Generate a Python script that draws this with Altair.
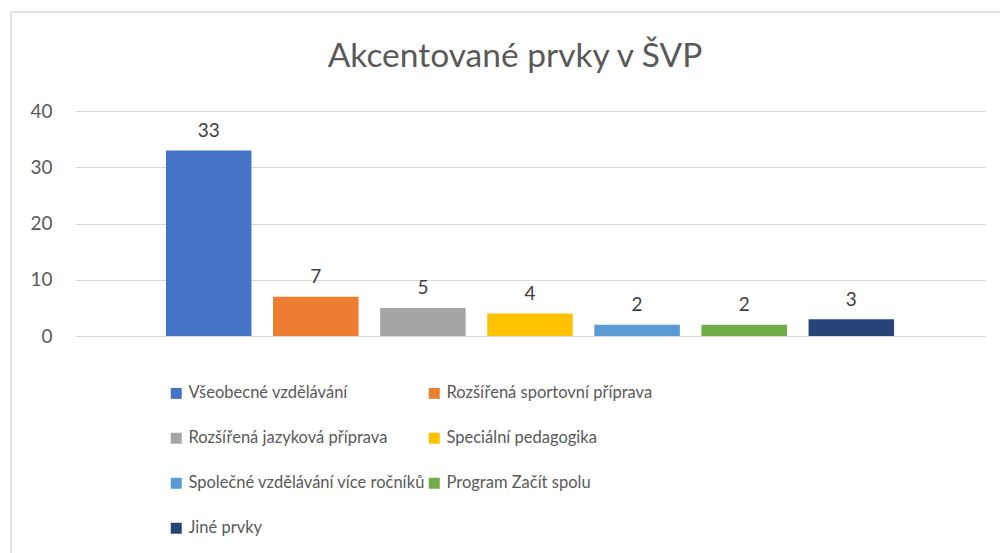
import altair as alt
import pandas as pd

categories = [
    "Všeobecné vzdělávání",
    "Rozšířená sportovní příprava",
    "Rozšířená jazyková příprava",
    "Speciální pedagogika",
    "Společné vzdělávání více ročníků",
    "Program Začít spolu",
    "Jiné prvky",
]
values = [33, 7, 5, 4, 2, 2, 3]
colors = ["#4472C4", "#ED7D31", "#A5A5A5", "#FFC000", "#5B9BD5", "#70AD47", "#264478"]
y_ticks = [0, 10, 20, 30, 40]

df = pd.DataFrame({"cat": categories, "val": values})

FONT = "Lato"
GRAY = "#595959"

base = alt.Chart(df).encode(
    x=alt.X("cat:N", sort=categories,
            scale=alt.Scale(paddingInner=0.2017, paddingOuter=0.849),
            axis=None)
)

bars = base.mark_bar().encode(
    y=alt.Y("val:Q", scale=alt.Scale(domain=[0, 40]),
            axis=alt.Axis(values=y_ticks, grid=True, domain=False, ticks=False,
                          labelPadding=23, labelFontSize=19, labelFont=FONT,
                          labelColor=GRAY, gridColor="#d9d9d9", gridWidth=1.2,
                          title=None)),
    color=alt.Color("cat:N", sort=categories,
                    scale=alt.Scale(domain=categories, range=colors),
                    legend=alt.Legend(title=None, orient="none", legendX=93, legendY=274,
                                      direction="horizontal",
                                      columns=2, symbolType="square", symbolSize=121,
                                      symbolStrokeWidth=0, labelFont=FONT, labelFontSize=16.5,
                                      labelColor=GRAY, labelOffset=4, rowPadding=28,
                                      columnPadding=0, padding=0, labelLimit=400)),
)

labels = base.mark_text(baseline="alphabetic", dy=-13.5, font=FONT, fontSize=19,
                        color="#404040").encode(
    y=alt.Y("val:Q"),
    text=alt.Text("val:Q"),
)

frame_df = pd.DataFrame({"k": [0]})
top_border = alt.Chart(frame_df).mark_rule(color="#d9d9d9", strokeWidth=1.5).encode(
    x=alt.value(-64), x2=alt.value(940), y=alt.value(-99)
)
left_border = alt.Chart(frame_df).mark_rule(color="#d9d9d9", strokeWidth=1.5).encode(
    x=alt.value(-64), y=alt.value(-99), y2=alt.value(450)
)

chart = alt.layer(top_border, left_border, bars, labels).properties(
    width=910,
    height=225,
    title=alt.TitleParams("Akcentované prvky v ŠVP", font=FONT, fontSize=33.5,
                          fontWeight="normal", color=GRAY, anchor="middle",
                          frame="group", dx=-15, offset=-63),
    autosize=alt.AutoSizeParams(type="none"),
    padding={"left": 67, "top": 103, "right": 15, "bottom": 217},
).configure_view(stroke=None)

chart.save("out.html", embed_options={"renderer": "svg", "actions": False})
